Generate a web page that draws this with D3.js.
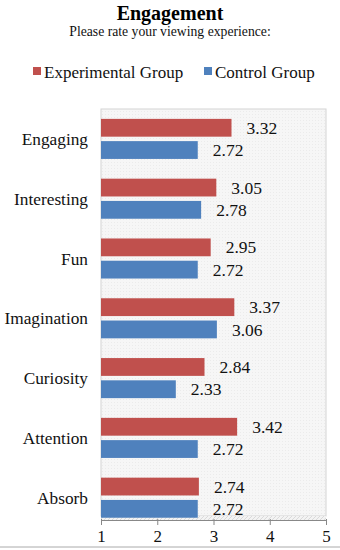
<!DOCTYPE html>
<html><head><meta charset="utf-8">
<script src="https://cdn.jsdelivr.net/npm/d3@7"></script>
<style>html,body{margin:0;padding:0;background:#fff;}svg{display:block;}</style>
</head><body>
<svg id="c" width="340" height="550"></svg>
<script>
const categories = ["Engaging","Interesting","Fun","Imagination","Curiosity","Attention","Absorb"];
const experimental = [3.32,3.05,2.95,3.37,2.84,3.42,2.74];
const control = [2.72,2.78,2.72,3.06,2.33,2.72,2.72];
const seriesNames = ["Experimental Group","Control Group"];
const colors = ["#C0504D","#4F81BD"];
const ticks = [1,2,3,4,5];

const svg = d3.select("#c");
const font = "'Liberation Serif','Times New Roman',serif";
const pLeft = 101, pRight = 326, pTop = 109, pBottom = 520;

const defs = svg.append("defs");
const pat = defs.append("pattern").attr("id","dots").attr("width",3).attr("height",3).attr("patternUnits","userSpaceOnUse");
pat.append("rect").attr("width",3).attr("height",3).attr("fill","#f6f6f6");
pat.append("rect").attr("width",1).attr("height",1).attr("fill","#ebebeb");
const hatch = defs.append("pattern").attr("id","hatch").attr("width",4).attr("height",4).attr("patternUnits","userSpaceOnUse");
hatch.append("rect").attr("width",4).attr("height",4).attr("fill","#f3f3f3");
hatch.append("path").attr("d","M0,4 L4,0").attr("stroke","#dadada").attr("stroke-width",1);

const x = d3.scaleLinear().domain([1,5]).range([pLeft,pRight]);
const y = d3.scaleBand().domain(categories).range([pTop, pTop + 59.8*7]).paddingInner(0.33).paddingOuter(0.165);
const y2 = d3.scaleBand().domain(seriesNames).range([0, y.bandwidth()]).paddingInner(0.2);

// plot background
svg.append("rect").attr("x",pLeft).attr("y",pTop).attr("width",pRight-pLeft).attr("height",pBottom-4-pTop)
  .attr("fill","url(#dots)").attr("stroke","#d4d4d4").attr("stroke-width",1);
svg.append("rect").attr("x",pLeft).attr("y",pBottom-4).attr("width",pRight-pLeft).attr("height",4).attr("fill","url(#hatch)");

// bars
const groups = svg.append("g").selectAll("g").data(categories).join("g")
  .attr("transform", d => `translate(0,${y(d)})`);
const rows = categories.map((c,i)=>[{s:0,v:experimental[i]},{s:1,v:control[i]}]);
groups.each(function(c,i){
  const g = d3.select(this);
  rows[i].forEach(r=>{
    g.append("rect").attr("x",x(1)).attr("y",y2(seriesNames[r.s]))
      .attr("width",x(r.v)-x(1)).attr("height",y2.bandwidth()).attr("fill",colors[r.s]);
    g.append("text").attr("x",x(r.v)+15).attr("y",y2(seriesNames[r.s])+y2.bandwidth()/2)
      .attr("dy","0.35em").attr("font-family",font).attr("font-size",17.5).attr("fill","#111")
      .text(r.v.toFixed(2));
  });
});

// category labels
svg.append("g").selectAll("text").data(categories).join("text")
  .attr("x",88).attr("y",d=>y(d)+y.bandwidth()/2).attr("dy","0.35em")
  .attr("text-anchor","end").attr("font-family",font).attr("font-size",17.3).attr("fill","#111")
  .text(d=>d);

// x axis
const ax = svg.append("g").attr("transform",`translate(0,${pBottom})`)
  .call(d3.axisBottom(x).tickValues(ticks).tickSize(5).tickSizeOuter(5).tickFormat(d3.format("d")));
ax.select(".domain").attr("stroke","#888");
ax.selectAll(".tick line").attr("stroke","#888").attr("y1",-1);
ax.selectAll(".tick text").attr("font-family",font).attr("font-size",17).attr("fill","#111").attr("dy","0.85em");

// title
svg.append("text").attr("x",170).attr("y",20).attr("text-anchor","middle").attr("font-family",font)
  .attr("font-weight","bold").attr("font-size",20).attr("fill","#000").text("Engagement");
svg.append("text").attr("x",170).attr("y",36).attr("text-anchor","middle").attr("font-family",font)
  .attr("font-size",13.7).attr("fill","#111").text("Please rate your viewing experience:");

// legend
const legX = [33,204];
seriesNames.forEach((n,i)=>{
  svg.append("rect").attr("x",legX[i]).attr("y",67).attr("width",8).attr("height",8).attr("fill",colors[i]);
  svg.append("text").attr("x",legX[i]+11).attr("y",72).attr("dy","0.35em").attr("font-family",font)
    .attr("font-size",17).attr("fill","#111").text(n);
});

// bottom page line
svg.append("line").attr("x1",0).attr("x2",340).attr("y1",547).attr("y2",547).attr("stroke","#aaa").attr("stroke-width",1);
</script>
</body></html>
